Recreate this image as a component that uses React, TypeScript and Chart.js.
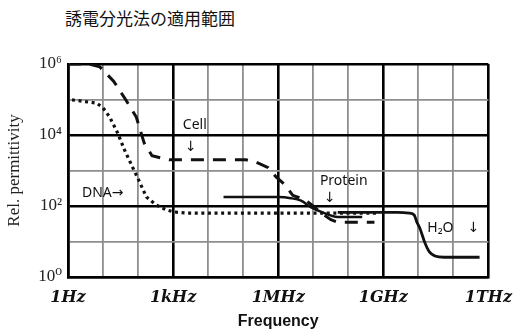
import React, { useEffect, useRef } from 'react';
import { Chart, registerables } from 'chart.js';

Chart.register(...registerables);

const chartTitle = '誘電分光法の適用範囲';
const xAxisTitle = 'Frequency';
const yAxisTitle = 'Rel. permittivity';

// decade grid (Hz) and labels
const xTickValues = [1, 1e1, 1e2, 1e3, 1e4, 1e5, 1e6, 1e7, 1e8, 1e9, 1e10, 1e11, 1e12];
const xTickLabels = ['1Hz', '', '', '1kHz', '', '', '1MHz', '', '', '1GHz', '', '', '1THz'];
const yTickValues = [1, 1e1, 1e2, 1e3, 1e4, 1e5, 1e6];
const yTickLabels = ['10⁰', '', '10²', '', '10⁴', '', '10⁶'];

// Cell (dashed)
const cellFreq = [1, 4, 8.1, 20, 44, 89, 150, 250, 780, 1.2e5, 2.4e5, 5.2e5, 8.7e5, 1.6e6, 2.6e6, 5.8e6, 1.1e7, 1.7e7, 3.2e7, 5e7, 5.6e8];
const cellPerm = [1e6, 1e6, 8.3e5, 3.3e5, 1e5, 3.2e4, 5900, 2600, 2000, 2000, 1700, 1200, 660, 390, 200, 150, 93, 63, 41, 35, 35];

// DNA (dotted)
const dnaFreq = [1.3, 6.6, 10, 15.5, 26, 41, 69, 110, 174, 330, 630, 1070, 2500, 6.3e8];
const dnaPerm = [9.8e4, 7.9e4, 5.8e4, 3.2e4, 1.15e4, 3800, 1260, 480, 178, 107, 78, 68, 63, 63];

// Protein (solid)
const proteinFreq = [2.75e4, 1e6, 2.3e6, 4.5e6, 8.5e6, 1.7e7, 5e7, 2.5e8];
const proteinPerm = [178, 178, 166, 141, 93, 68, 49, 49];

// Water (solid)
const waterFreq = [5e7, 2.5e9, 5.5e9, 7.6e9, 9.1e9, 1.1e10, 1.55e10, 2.1e10, 3e10, 5.4e10, 5.6e11];
const waterPerm = [66, 66, 63, 56, 35, 24, 9.1, 5, 3.9, 3.6, 3.6];

// text notes (data coordinates)
const noteTexts = ['Cell', '↓', 'DNA→', 'Protein', '↓', 'H₂O', '↓'];
const noteFreq = [1900, 3200, 2.5, 1.55e7, 3e7, 1.8e10, 3.8e11];
const notePerm = [1.9e4, 4600, 234, 500, 170, 24, 24];
const noteAlign: CanvasTextAlign[] = ['left', 'center', 'left', 'left', 'center', 'left', 'center'];

const zip = (xs: number[], ys: number[]) => xs.map((x, i) => ({ x, y: ys[i] }));

const isMajorX = (v: number) => Math.round(Math.log10(v)) % 3 === 0;
const isMajorY = (v: number) => Math.round(Math.log10(v)) % 2 === 0;

const notesPlugin = {
  id: 'notes',
  afterDatasetsDraw(chart: any) {
    const { ctx, scales } = chart;
    const xs = scales.x;
    const ys = scales.y;
    ctx.save();
    ctx.font = '14px "Noto Sans", "DejaVu Sans", sans-serif';
    ctx.fillStyle = '#111';
    ctx.textBaseline = 'middle';
    noteTexts.forEach((t, i) => {
      ctx.textAlign = noteAlign[i];
      ctx.fillText(t, xs.getPixelForValue(noteFreq[i]), ys.getPixelForValue(notePerm[i]));
    });
    ctx.restore();
  },
};

export default function App() {
  const ref = useRef<HTMLCanvasElement>(null);

  useEffect(() => {
    if (!ref.current) return;
    const chart = new Chart(ref.current, {
      type: 'line',
      data: {
        datasets: [
          {
            label: 'Cell',
            data: zip(cellFreq, cellPerm),
            borderColor: '#111',
            borderWidth: 3,
            borderDash: [13, 9],
            pointRadius: 0,
            tension: 0,
          },
          {
            label: 'DNA',
            data: zip(dnaFreq, dnaPerm),
            borderColor: '#111',
            borderWidth: 3.2,
            borderDash: [3, 3.6],
            pointRadius: 0,
            tension: 0,
          },
          {
            label: 'Protein',
            data: zip(proteinFreq, proteinPerm),
            borderColor: '#111',
            borderWidth: 2.5,
            pointRadius: 0,
            cubicInterpolationMode: 'monotone',
          },
          {
            label: 'H2O',
            data: zip(waterFreq, waterPerm),
            borderColor: '#111',
            borderWidth: 2.8,
            pointRadius: 0,
            cubicInterpolationMode: 'monotone',
          },
        ],
      } as any,
      options: {
        responsive: false,
        animation: false,
        layout: { padding: { top: 64, right: 31, left: 0, bottom: 0 } },
        plugins: {
          legend: { display: false },
          tooltip: { enabled: false },
          title: { display: false },
        },
        scales: {
          x: {
            type: 'logarithmic',
            min: 1,
            max: 1e12,
            afterBuildTicks: (scale: any) => {
              scale.ticks = xTickValues.map((v) => ({ value: v }));
            },
            afterFit: (scale: any) => {
              scale.height = 53;
            },
            ticks: {
              autoSkip: false,
              maxRotation: 0,
              padding: 11,
              color: '#111',
              font: { family: '"DejaVu Serif", serif', size: 16, style: 'italic', weight: 'bold' },
              callback: (_v: any, i: number) => xTickLabels[i],
            },
            grid: {
              drawTicks: false,
              color: (c: any) => (c.tick && isMajorX(c.tick.value) ? '#000' : '#8e8e8e'),
              lineWidth: (c: any) => (c.tick && isMajorX(c.tick.value) ? 2.6 : 1.8),
            },
            border: { display: true, color: '#000', width: 2.6 },
            title: {
              display: true,
              text: xAxisTitle,
              color: '#111',
              font: { family: '"Liberation Sans", sans-serif', size: 16, weight: 'bold', lineHeight: 1 },
              padding: { top: 0, bottom: 0 },
            },
          },
          y: {
            type: 'logarithmic',
            min: 1,
            max: 1e6,
            afterBuildTicks: (scale: any) => {
              scale.ticks = yTickValues.map((v) => ({ value: v }));
            },
            afterFit: (scale: any) => {
              scale.width = 68;
            },
            ticks: {
              autoSkip: false,
              padding: 6,
              color: '#222',
              font: { family: '"Liberation Serif", "DejaVu Serif", serif', size: 17 },
              callback: (_v: any, i: number) => yTickLabels[i],
            },
            grid: {
              drawTicks: false,
              color: (c: any) => (c.tick && isMajorY(c.tick.value) ? '#000' : '#8e8e8e'),
              lineWidth: (c: any) => (c.tick && isMajorY(c.tick.value) ? 2.6 : 1.8),
            },
            border: { display: true, color: '#000', width: 2.6 },
            title: {
              display: true,
              text: yAxisTitle,
              color: '#222',
              font: { family: '"Liberation Serif", serif', size: 17 },
              padding: { top: 4, bottom: 0 },
            },
          },
        },
      } as any,
      plugins: [notesPlugin],
    });
    return () => chart.destroy();
  }, []);

  return (
    <div style={{ position: 'absolute', left: 0, top: 0, width: 523, height: 330, background: '#fff' }}>
      <div
        style={{
          position: 'absolute',
          left: 65,
          top: 9,
          fontFamily: '"Noto Sans CJK JP", sans-serif',
          fontSize: 17,
          lineHeight: '18px',
          color: '#111',
          whiteSpace: 'nowrap',
        }}
      >
        {chartTitle}
      </div>
      <canvas ref={ref} width={523} height={330} style={{ position: 'absolute', left: 0, top: 0 }} />
    </div>
  );
}
